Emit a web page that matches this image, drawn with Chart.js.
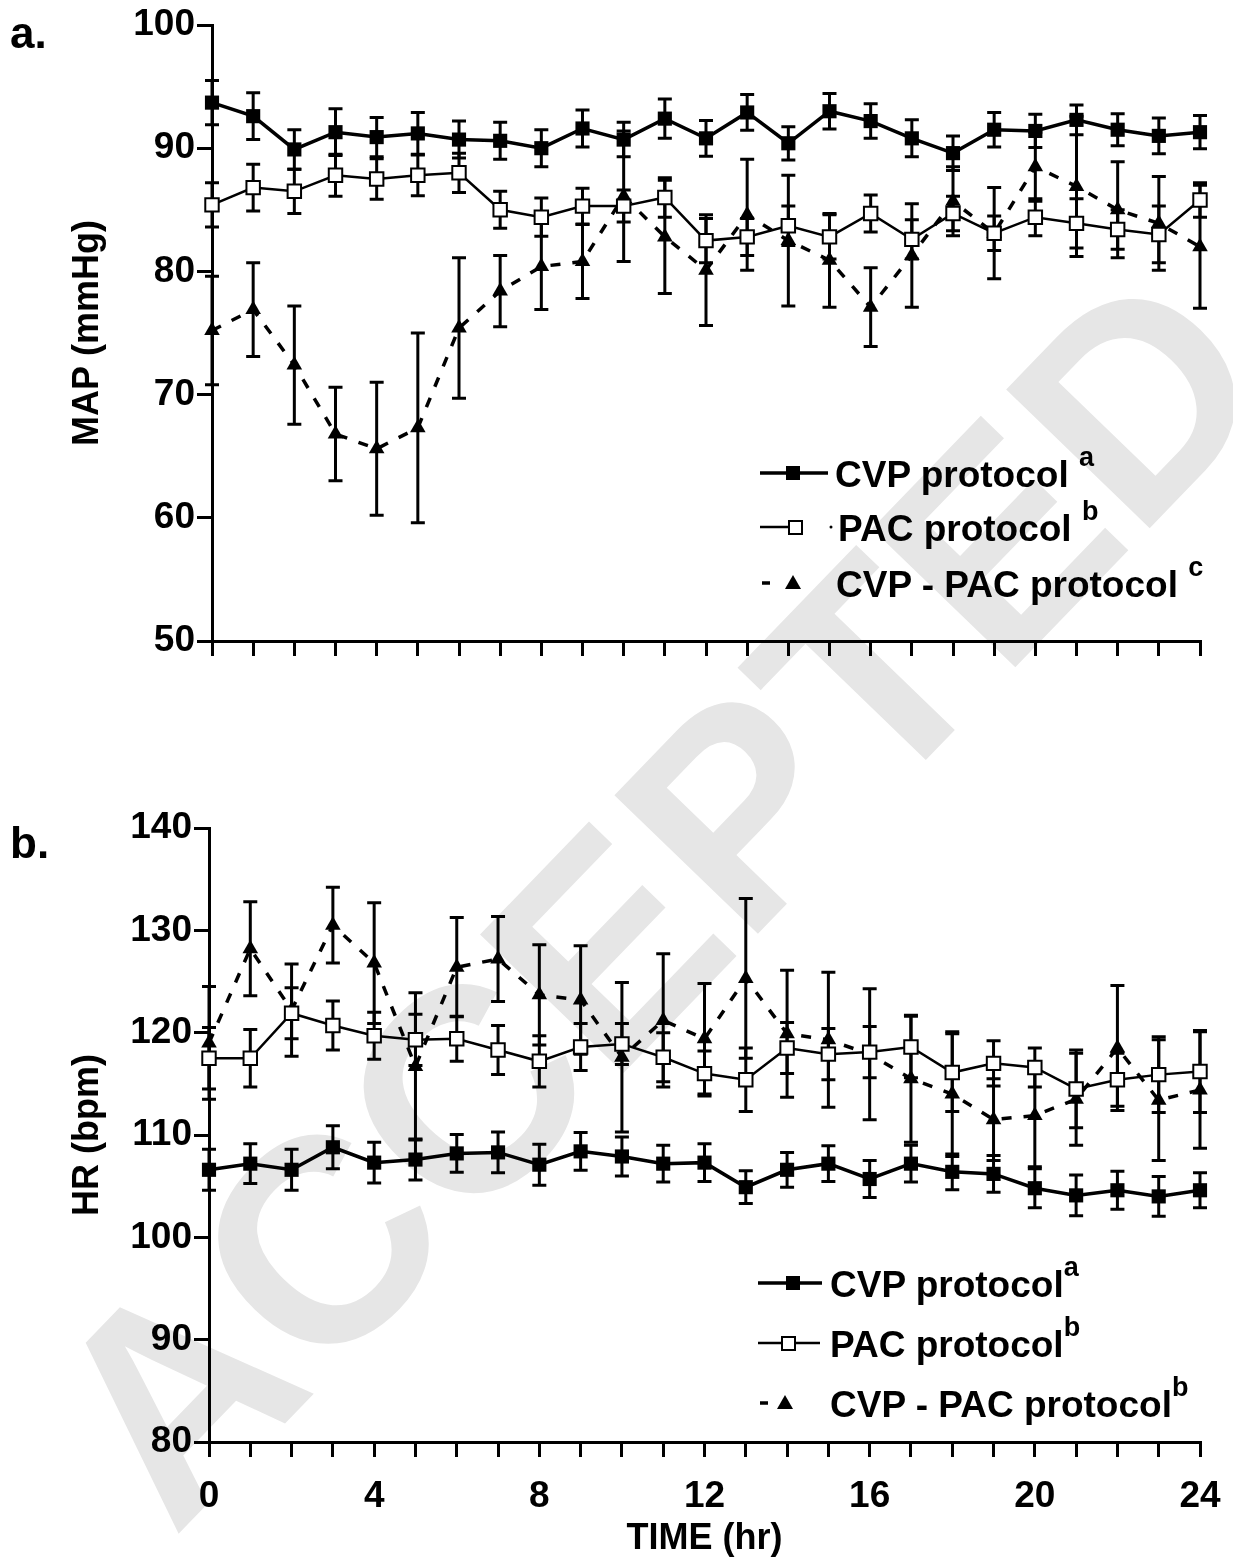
<!DOCTYPE html>
<html>
<head>
<meta charset="utf-8">
<script src="https://cdn.jsdelivr.net/npm/chart.js@4.4.1/dist/chart.umd.min.js"></script>
<style>
  body { margin: 0; background: #fff; }
  #page { position: relative; width: 1233px; height: 1563px; overflow: hidden; background: #fff;
          font-family: "Liberation Sans", Arial, sans-serif; font-weight: bold; color: #000; }
  #mark { position: absolute; left: 655px; top: 895px; transform: translate(-50%, -50%) rotate(-46deg);
          font-size: 290px; line-height: 1; color: #e6e6e6; white-space: nowrap; z-index: 0; }
  canvas { position: absolute; left: 0; z-index: 1; }
  .panel { position: absolute; left: 10px; font-size: 44px; z-index: 2; }
  .row { position: absolute; left: 758px; height: 50px; display: flex; align-items: center; font-size: 37px; z-index: 2; white-space: nowrap; }
  .row svg { flex: none; }
  .row sup { font-size: 27px; position: relative; top: -8px; }
</style>
</head>
<body>
<div id="page">
  <div id="mark">ACCEPTED</div>
  <canvas id="mapChart" width="1233" height="700" style="top:0"></canvas>
  <canvas id="hrChart" width="1233" height="793" style="top:770px"></canvas>

  <div class="panel" style="top:8px">a.</div>
  <div class="panel" style="top:818px">b.</div>

  <!-- legend panel a -->
  <div class="row" style="top:448px">
    <svg width="77" height="50"><line x1="2" y1="25" x2="70" y2="25" stroke="#000" stroke-width="3.5"/><rect x="28" y="18" width="14" height="14" fill="#000"/></svg>
    <span>CVP protocol <sup>a</sup></span>
  </div>
  <div class="row" style="top:502px">
    <svg width="80" height="50"><line x1="2" y1="25" x2="30" y2="25" stroke="#000" stroke-width="2.5"/><rect x="31" y="19" width="13" height="13" fill="#fff" stroke="#000" stroke-width="2"/><circle cx="73" cy="25" r="1.5" fill="#000"/></svg>
    <span>PAC protocol <sup>b</sup></span>
  </div>
  <div class="row" style="top:558px">
    <svg width="78" height="50"><line x1="4" y1="25" x2="12" y2="25" stroke="#000" stroke-width="3.5"/><polygon points="35,17 43,31 27,31" fill="#000"/></svg>
    <span>CVP - PAC protocol <sup>c</sup></span>
  </div>

  <!-- legend panel b -->
  <div class="row" style="top:1258px">
    <svg width="72" height="50"><line x1="0" y1="25" x2="64" y2="25" stroke="#000" stroke-width="3.5"/><rect x="28" y="18" width="14" height="14" fill="#000"/></svg>
    <span>CVP protocol<sup>a</sup></span>
  </div>
  <div class="row" style="top:1318px">
    <svg width="72" height="50"><line x1="0" y1="25" x2="62" y2="25" stroke="#000" stroke-width="2.5"/><rect x="24" y="19" width="13" height="13" fill="#fff" stroke="#000" stroke-width="2"/></svg>
    <span>PAC protocol<sup>b</sup></span>
  </div>
  <div class="row" style="top:1378px">
    <svg width="72" height="50"><line x1="2" y1="25" x2="10" y2="25" stroke="#000" stroke-width="3.5"/><polygon points="27,17 35,31 19,31" fill="#000"/></svg>
    <span>CVP - PAC protocol<sup>b</sup></span>
  </div>
</div>

<script>
// time points (hr)
const hours = [0,1,2,3,4,5,6,7,8,9,10,11,12,13,14,15,16,17,18,19,20,21,22,23,24];

// panel a: MAP (mmHg), mean and error
const mapCvp    = [93.7,92.6,89.9,91.3,90.9,91.2,90.7,90.6,90.0,91.6,90.7,92.4,90.8,92.9,90.4,93.0,92.2,90.8,89.6,91.5,91.4,92.3,91.5,91.0,91.3];
const mapCvpErr = [1.8,1.9,1.6,1.9,1.6,1.7,1.5,1.5,1.5,1.5,1.4,1.6,1.45,1.45,1.35,1.45,1.4,1.5,1.4,1.4,1.35,1.2,1.3,1.45,1.35];
const mapPac    = [85.4,86.8,86.5,87.8,87.5,87.8,88.0,85.0,84.4,85.3,85.3,86.0,82.5,82.8,83.7,82.8,84.7,82.6,84.7,83.1,84.4,83.9,83.4,83.0,85.8];
const mapPacErr = [1.8,1.9,1.8,1.7,1.65,1.65,1.6,1.5,1.55,1.45,1.3,1.6,1.8,1.5,1.6,1.8,1.5,1.6,1.4,1.4,1.5,2.0,1.6,2.3,1.4];
const mapMix    = [75.2,76.9,72.4,66.8,65.6,67.3,75.4,78.4,80.4,80.8,86.1,82.8,80.1,84.6,82.5,80.9,77.1,81.3,85.7,83.1,88.5,86.9,85.0,83.9,82.0];
const mapMixErr = [4.4,3.8,4.8,3.8,5.4,7.7,5.7,2.9,3.5,3.0,5.3,4.6,4.5,4.5,5.3,3.8,3.2,4.2,2.8,3.7,2.8,5.7,3.9,3.8,5.0];

// panel b: HR (bpm), mean and error
const hrCvp    = [106.6,107.2,106.6,108.8,107.3,107.6,108.2,108.3,107.1,108.4,107.9,107.2,107.3,104.9,106.6,107.2,105.7,107.2,106.4,106.2,104.8,104.1,104.6,104.0,104.6];
const hrCvpErr = [2.0,1.95,2.0,2.1,2.0,2.0,1.85,2.0,2.0,1.85,1.9,1.8,1.85,1.6,1.7,1.75,1.8,1.8,1.75,1.8,1.9,2.0,1.85,1.95,1.7];
const hrPac    = [117.5,117.5,121.9,120.7,119.7,119.3,119.4,118.3,117.2,118.6,118.9,117.6,116.0,115.4,118.5,117.9,118.1,118.6,116.1,117.0,116.6,114.5,115.4,115.9,116.2];
const hrPacErr = [3.0,2.8,2.5,2.4,2.3,2.5,2.2,2.4,2.5,2.3,2.0,2.4,2.2,3.1,2.5,2.5,2.5,3.0,3.8,2.2,1.9,3.8,2.6,3.7,4.0];
const hrMix    = [119.0,128.2,122.2,130.5,126.8,116.7,126.4,127.2,123.7,123.2,117.6,121.2,119.4,125.3,119.9,119.3,117.9,115.5,114.0,111.5,111.9,113.5,118.5,113.4,114.4];
const hrMixErr = [5.5,4.6,4.5,3.7,5.9,7.2,4.85,4.15,4.9,5.3,7.3,6.5,5.4,7.8,6.2,6.6,6.4,6.2,6.1,4.0,5.0,4.5,6.1,5.9,5.7];

const FONT = "'Liberation Sans', Arial, sans-serif";

// draw mean +/- error whiskers under the markers
const errorBars = {
  id: 'errorBars',
  beforeDatasetsDraw(chart) {
    const { ctx, scales: { x, y } } = chart;
    ctx.save();
    ctx.strokeStyle = '#000';
    ctx.lineWidth = 3;
    chart.data.datasets.forEach(ds => {
      ds.errors.forEach((e, i) => {
        const px = x.getPixelForValue(ds.data[i].x);
        const top = y.getPixelForValue(ds.data[i].y + e);
        const bot = y.getPixelForValue(ds.data[i].y - e);
        ctx.beginPath();
        ctx.moveTo(px, top); ctx.lineTo(px, bot);
        ctx.moveTo(px - 7, top); ctx.lineTo(px + 7, top);
        ctx.moveTo(px - 7, bot); ctx.lineTo(px + 7, bot);
        ctx.stroke();
      });
    });
    ctx.restore();
  }
};

function points(vals) {
  return hours.map((h, i) => ({ x: h, y: vals[i] }));
}

function makeSets(cvp, cvpErr, pac, pacErr, mix, mixErr) {
  return [
    { label: 'CVP protocol', data: points(cvp), errors: cvpErr, borderColor: '#000', borderWidth: 3.5,
      pointStyle: 'rect', pointRadius: 10, pointBackgroundColor: '#000', pointBorderColor: '#000', pointBorderWidth: 0, clip: false },
    { label: 'PAC protocol', data: points(pac), errors: pacErr, borderColor: '#000', borderWidth: 2.5,
      pointStyle: 'rect', pointRadius: 9.5, pointBackgroundColor: '#fff', pointBorderColor: '#000', pointBorderWidth: 2, clip: false },
    { label: 'CVP - PAC protocol', data: points(mix), errors: mixErr, borderColor: '#000', borderWidth: 3.5, borderDash: [10, 12],
      pointStyle: 'triangle', pointRadius: 9, pointBackgroundColor: '#000', pointBorderColor: '#000', pointBorderWidth: 0, clip: false }
  ];
}

function axisGrid() {
  return { drawOnChartArea: false, drawTicks: true, tickLength: 15, color: '#000', lineWidth: 3 };
}

function makeOptions(yMin, yMax, yTitle, axisLeft, topPad, xHeight, showX) {
  return {
    responsive: false,
    animation: false,
    layout: { padding: { top: topPad, right: 33, left: 0, bottom: 0 } },
    plugins: { legend: { display: false }, tooltip: { enabled: false } },
    elements: { line: { tension: 0 } },
    scales: {
      x: {
        type: 'linear', min: 0, max: 24,
        ticks: { stepSize: 1, autoSkip: false, display: showX, color: '#000', padding: 18, maxRotation: 0,
                 font: { family: FONT, size: 37, weight: 'bold' },
                 callback: v => (v % 4 === 0 ? v : '') },
        grid: axisGrid(),
        border: { color: '#000', width: 3 },
        title: { display: showX, text: 'TIME (hr)', color: '#000', padding: { bottom: 2, top: 0 },
                 font: { family: FONT, size: 36, weight: 'bold' } },
        afterFit: s => { s.height = xHeight; s.paddingLeft = 0; s.paddingRight = 0; }
      },
      y: {
        min: yMin, max: yMax,
        ticks: { stepSize: 10, color: '#000', padding: 2, font: { family: FONT, size: 37, weight: 'bold' } },
        grid: axisGrid(),
        border: { color: '#000', width: 3 },
        title: { display: true, text: yTitle, color: '#000', padding: { top: 66, bottom: 0 },
                 font: { family: FONT, size: 36, weight: 'bold' } },
        afterFit: s => { s.width = axisLeft; }
      }
    }
  };
}

new Chart(document.getElementById('mapChart'), {
  type: 'line',
  data: { datasets: makeSets(mapCvp, mapCvpErr, mapPac, mapPacErr, mapMix, mapMixErr) },
  options: makeOptions(50, 100, 'MAP (mmHg)', 212, 25, 59, false),
  plugins: [errorBars]
});

new Chart(document.getElementById('hrChart'), {
  type: 'line',
  data: { datasets: makeSets(hrCvp, hrCvpErr, hrPac, hrPacErr, hrMix, hrMixErr) },
  options: makeOptions(80, 140, 'HR (bpm)', 209, 58, 121, true),
  plugins: [errorBars]
});
</script>
</body>
</html>
